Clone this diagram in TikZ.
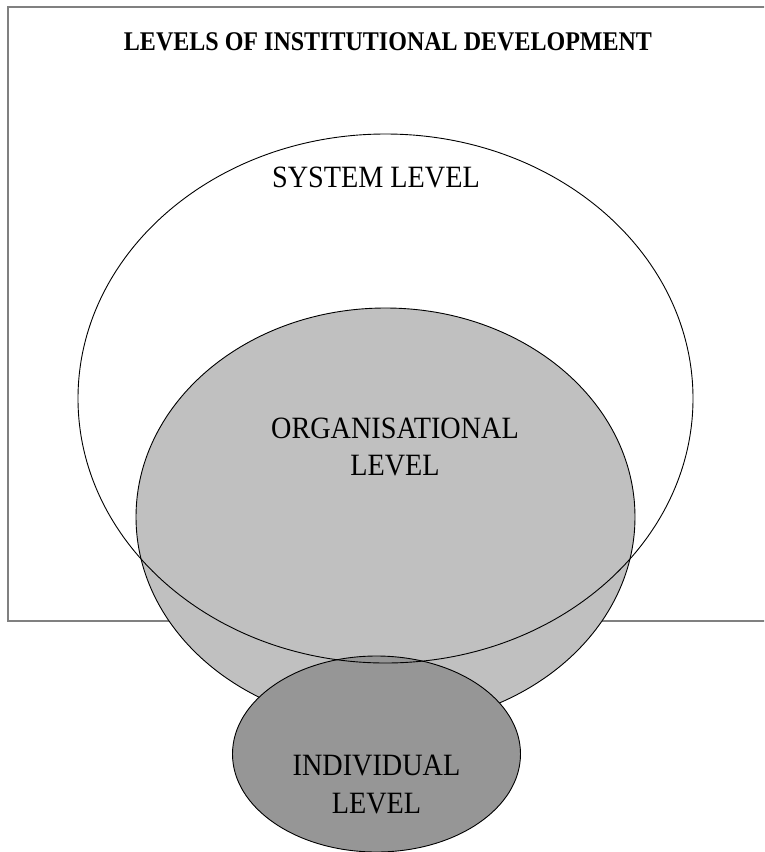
\documentclass[tikz,border=0pt]{standalone}
\usepackage{fontspec}
\usetikzlibrary{shapes.geometric}
\newfontfamily\lblfont[FakeStretch=0.91]{Liberation Serif}
\newfontfamily\ttlfont[FakeStretch=0.89]{Liberation Serif}
\definecolor{orgfill}{RGB}{192,192,192}
\definecolor{indfill}{RGB}{150,150,150}
\definecolor{frameline}{RGB}{128,128,128}
\tikzset{
  levelshape/.style={ellipse, draw=black, line width=0.9pt, inner sep=0pt, outer sep=0pt},
  leveltext/.style={inner sep=0pt, align=center, font=\lblfont\fontsize{31}{37.5}\selectfont},
  titletext/.style={inner sep=0pt, font=\ttlfont\bfseries\fontsize{27}{32}\selectfont},
}
\begin{document}
\begin{tikzpicture}[x=1pt,y=-1pt]
  \useasboundingbox (0,0) rectangle (764,852);
  \clip (0,0) rectangle (764,852);
  \fill[white] (0,0) rectangle (764,852);
  % frame
  \draw[frameline, line width=1.3pt] (8,7) rectangle (775,621);
  % organisational level
  \node[levelshape, fill=orgfill, minimum width=499pt, minimum height=418pt] (org) at (385.5,517) {};
  % individual level
  \node[levelshape, fill=indfill, minimum width=288pt, minimum height=196pt] (ind) at (376.5,754) {};
  % system level (outline only, drawn on top)
  \node[levelshape, minimum width=615pt, minimum height=529pt] (sys) at (385.5,398.5) {};
  % texts
  \node[titletext, anchor=base] (title) at (388,50) {LEVELS OF INSTITUTIONAL DEVELOPMENT};
  \node[leveltext, anchor=base] (systxt) at (376,187) {SYSTEM LEVEL};
  \node[leveltext] (orgtxt) at (395,446.8) {ORGANISATIONAL\\LEVEL};
  \node[leveltext] (indtxt) at (376.5,784.7) {INDIVIDUAL\\LEVEL};
\end{tikzpicture}
\end{document}
